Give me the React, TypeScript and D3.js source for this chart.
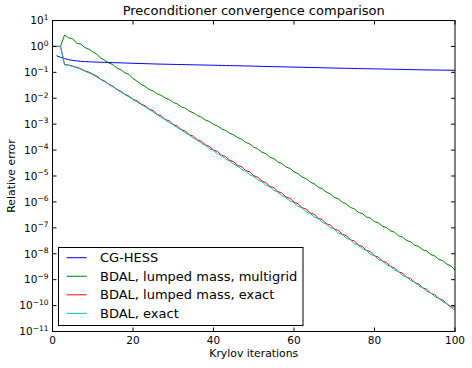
import React, { useEffect, useRef } from 'react';
import * as d3 from 'd3';

// log10 of the relative error, one entry per Krylov iteration
const cgHessLog = [
  -0.36, -0.42, -0.47, -0.51, -0.54, -0.56, -0.575, -0.585, -0.592, -0.6,
  -0.605, -0.61, -0.615, -0.62, -0.625, -0.63, -0.635, -0.64, -0.645, -0.65,
  -0.655, -0.66, -0.665, -0.67, -0.675, -0.68, -0.683, -0.686, -0.69, -0.693,
  -0.696, -0.7, -0.703, -0.706, -0.71, -0.713, -0.716, -0.72, -0.723, -0.726,
  -0.73, -0.733, -0.736, -0.74, -0.743, -0.746, -0.75, -0.754, -0.758, -0.762,
  -0.766, -0.77, -0.773, -0.777, -0.78, -0.784, -0.788, -0.791, -0.795, -0.798,
  -0.802, -0.806, -0.81, -0.813, -0.817, -0.82, -0.824, -0.828, -0.831, -0.835,
  -0.838, -0.842, -0.845, -0.849, -0.852, -0.855, -0.858, -0.861, -0.864, -0.867,
  -0.87, -0.873, -0.876, -0.879, -0.882, -0.885, -0.888, -0.891, -0.894, -0.897,
  -0.9, -0.903, -0.906, -0.909, -0.911, -0.913, -0.915, -0.917, -0.919, -0.921,
];
const cgHessStart = 1;

const multigridLog = [
  0, 0, 0, 0.44, 0.33, 0.3, 0.12, 0.09, -0.04, -0.1,
  -0.21, -0.3, -0.45, -0.54, -0.64, -0.7, -0.84, -0.9, -1.02, -1.08,
  -1.24, -1.34, -1.46, -1.54, -1.66, -1.72, -1.83, -1.89, -1.99, -2.05,
  -2.16, -2.22, -2.33, -2.39, -2.5, -2.56, -2.67, -2.73, -2.84, -2.9,
  -3.01, -3.07, -3.18, -3.24, -3.35, -3.41, -3.52, -3.58, -3.7, -3.76,
  -3.89, -3.95, -4.08, -4.14, -4.27, -4.33, -4.46, -4.52, -4.65, -4.71,
  -4.84, -4.91, -5.04, -5.1, -5.23, -5.3, -5.43, -5.49, -5.62, -5.69,
  -5.82, -5.88, -6.01, -6.08, -6.21, -6.27, -6.4, -6.45, -6.58, -6.63,
  -6.76, -6.81, -6.94, -6.99, -7.12, -7.17, -7.31, -7.36, -7.49, -7.54,
  -7.67, -7.72, -7.85, -7.9, -8.03, -8.09, -8.22, -8.27, -8.4, -8.47,
  -8.63,
];

const lumpedExactLog = [
  0, 0, 0, -0.7, -0.72, -0.76, -0.8, -0.86, -0.94, -0.99,
  -1.07, -1.14, -1.27, -1.34, -1.46, -1.53, -1.66, -1.73, -1.85, -1.92,
  -2.04, -2.1, -2.22, -2.29, -2.42, -2.48, -2.62, -2.68, -2.82, -2.87,
  -3.02, -3.07, -3.21, -3.27, -3.41, -3.46, -3.61, -3.66, -3.8, -3.86,
  -4.0, -4.05, -4.2, -4.25, -4.39, -4.45, -4.59, -4.64, -4.79, -4.84,
  -4.99, -5.05, -5.19, -5.25, -5.4, -5.45, -5.6, -5.66, -5.81, -5.86,
  -6.01, -6.07, -6.22, -6.27, -6.42, -6.48, -6.63, -6.68, -6.84, -6.89,
  -7.04, -7.1, -7.25, -7.3, -7.46, -7.51, -7.66, -7.72, -7.87, -7.92,
  -8.08, -8.13, -8.29, -8.34, -8.49, -8.55, -8.7, -8.75, -8.91, -8.96,
  -9.11, -9.17, -9.32, -9.37, -9.53, -9.58, -9.73, -9.79, -9.94, -10.05,
  -10.06,
];

const exactLog = [
  0, 0, 0, -0.71, -0.73, -0.77, -0.82, -0.88, -0.95, -1.02,
  -1.09, -1.18, -1.28, -1.37, -1.47, -1.56, -1.67, -1.76, -1.86, -1.95,
  -2.05, -2.14, -2.24, -2.33, -2.43, -2.53, -2.63, -2.74, -2.83, -2.94,
  -3.03, -3.14, -3.22, -3.34, -3.42, -3.54, -3.62, -3.74, -3.82, -3.94,
  -4.02, -4.14, -4.22, -4.34, -4.42, -4.54, -4.62, -4.74, -4.82, -4.95,
  -5.02, -5.15, -5.22, -5.35, -5.42, -5.55, -5.62, -5.76, -5.83, -5.97,
  -6.03, -6.17, -6.23, -6.38, -6.44, -6.58, -6.64, -6.79, -6.85, -6.99,
  -7.05, -7.2, -7.26, -7.4, -7.46, -7.61, -7.67, -7.81, -7.87, -8.02,
  -8.08, -8.22, -8.28, -8.43, -8.49, -8.63, -8.69, -8.84, -8.9, -9.04,
  -9.1, -9.25, -9.31, -9.45, -9.51, -9.66, -9.72, -9.86, -9.92, -10.07,
  -10.18,
];

const seriesNames = [
  'CG-HESS',
  'BDAL, lumped mass, multigrid',
  'BDAL, lumped mass, exact',
  'BDAL, exact',
];
const seriesColors = ['#0000ff', '#008000', '#ff0000', '#00bfbf'];

const xTicks = [0, 20, 40, 60, 80, 100];
const yExponents = [1, 0, -1, -2, -3, -4, -5, -6, -7, -8, -9, -10, -11];

const FONT = 'DejaVu Sans, sans-serif';

const App = () => {
  const svgRef = useRef<SVGSVGElement>(null);

  useEffect(() => {
    const svg = d3.select(svgRef.current);
    svg.selectAll('*').remove();

    const width = 472;
    const height = 368;
    const margin = { top: 20.5, right: 17, bottom: 36.5, left: 52.5 };
    const left = margin.left;
    const right = width - margin.right;
    const top = margin.top;
    const bottom = height - margin.bottom;

    const x = d3.scaleLinear().domain([0, 100]).range([left, right]);
    const y = d3.scaleLog().domain([1e-11, 10]).range([bottom, top]);

    const toPoints = (logs: number[], start: number) =>
      logs.map((v, i) => ({ it: start + i, err: Math.pow(10, v) }));

    const series = [
      toPoints(cgHessLog, cgHessStart),
      toPoints(multigridLog, 0),
      toPoints(lumpedExactLog, 0),
      toPoints(exactLog, 0),
    ];

    const line = d3
      .line<{ it: number; err: number }>()
      .x(d => x(d.it))
      .y(d => y(d.err));

    svg.append('rect')
      .attr('x', 0).attr('y', 0)
      .attr('width', width).attr('height', height)
      .attr('fill', 'white');

    const plot = svg.append('g');
    plot.append('clipPath').attr('id', 'clip')
      .append('rect')
      .attr('x', left).attr('y', top)
      .attr('width', right - left).attr('height', bottom - top);

    series.forEach((pts, i) => {
      plot.append('path')
        .datum(pts)
        .attr('clip-path', 'url(#clip)')
        .attr('d', line)
        .attr('fill', 'none')
        .attr('stroke', seriesColors[i])
        .attr('stroke-width', 1)
        .attr('stroke-linejoin', 'round');
    });

    // frame
    svg.append('rect')
      .attr('x', left).attr('y', top)
      .attr('width', right - left).attr('height', bottom - top)
      .attr('fill', 'none')
      .attr('stroke', 'black')
      .attr('stroke-width', 1);

    // ticks pointing inward, all four sides
    const tl = 4;
    svg.selectAll('.xtick')
      .data(xTicks)
      .join('path')
      .attr('d', d => `M${x(d)},${bottom}v${-tl}M${x(d)},${top}v${tl}`)
      .attr('stroke', 'black');
    svg.selectAll('.ytick')
      .data(yExponents)
      .join('path')
      .attr('d', d => `M${left},${y(Math.pow(10, d))}h${tl}M${right},${y(Math.pow(10, d))}h${-tl}`)
      .attr('stroke', 'black');

    svg.selectAll('.xlabel')
      .data(xTicks)
      .join('text')
      .attr('x', d => x(d))
      .attr('y', bottom + 12.5)
      .attr('text-anchor', 'middle')
      .style('font-family', FONT)
      .attr('font-size', 10.5)
      .text(d => d);

    const ylab = svg.selectAll('.ylabel')
      .data(yExponents)
      .join('text')
      .attr('x', left - 4)
      .attr('y', d => y(Math.pow(10, d)) + 3.8)
      .attr('text-anchor', 'end')
      .style('font-family', FONT)
      .attr('font-size', 10.5);
    ylab.append('tspan').text('10');
    ylab.append('tspan')
      .attr('dy', -4.5)
      .attr('font-size', 7.5)
      .text(d => (d < 0 ? '\u2212' + -d : String(d)));

    svg.append('text')
      .attr('x', (left + right) / 2)
      .attr('y', 14.5)
      .attr('text-anchor', 'middle')
      .style('font-family', FONT)
      .attr('font-size', 13)
      .text('Preconditioner convergence comparison');

    svg.append('text')
      .attr('x', (left + right) / 2)
      .attr('y', 357.3)
      .attr('text-anchor', 'middle')
      .style('font-family', FONT)
      .attr('font-size', 10.85)
      .text('Krylov iterations');

    svg.append('text')
      .attr('transform', `translate(15,${(top + bottom) / 2}) rotate(-90)`)
      .attr('text-anchor', 'middle')
      .style('font-family', FONT)
      .attr('font-size', 10.85)
      .text('Relative error');

    // legend
    const lg = svg.append('g');
    lg.append('rect')
      .attr('x', 58.5).attr('y', 247.5)
      .attr('width', 244.5).attr('height', 78)
      .attr('fill', 'white')
      .attr('stroke', 'black')
      .attr('stroke-width', 1);
    const rows = lg.selectAll('g')
      .data(seriesNames)
      .join('g')
      .attr('transform', (d, i) => `translate(0,${257.7 + i * 18.55})`);
    rows.append('line')
      .attr('x1', 66.7).attr('x2', 86.7)
      .attr('y1', 0).attr('y2', 0)
      .attr('stroke', (d, i) => seriesColors[i])
      .attr('stroke-width', 1);
    rows.append('text')
      .attr('x', 100)
      .attr('y', 4.6)
      .style('font-family', FONT)
      .attr('font-size', 13)
      .text(d => d);
  }, []);

  return (
    <svg
      ref={svgRef}
      width={472}
      height={368}
      style={{ position: 'absolute', left: 0, top: 0 }}
    />
  );
};

export default App;
